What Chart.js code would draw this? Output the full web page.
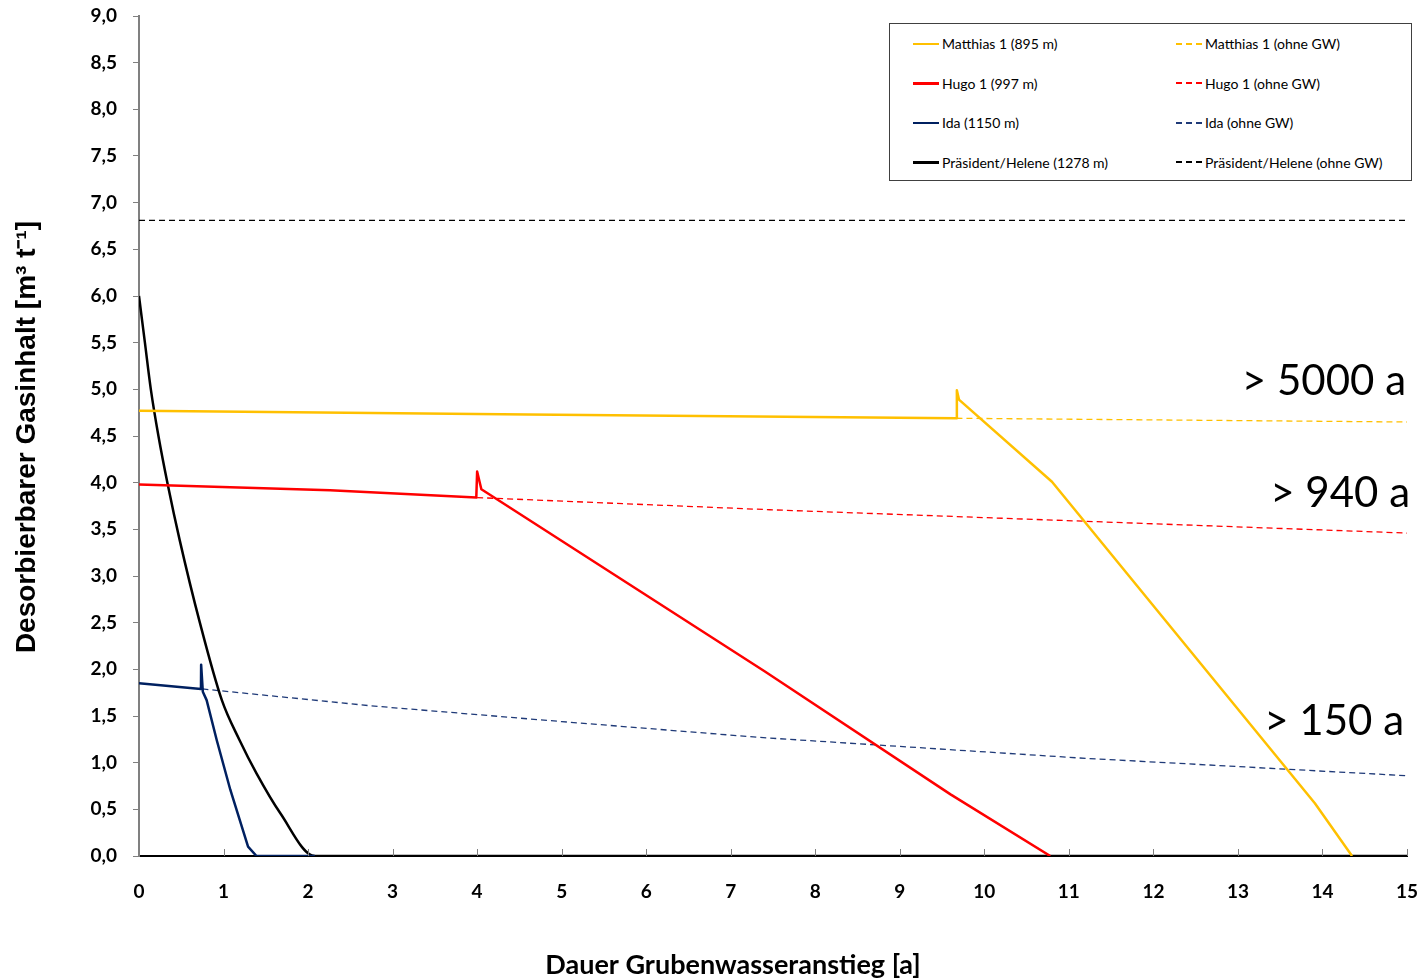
<!DOCTYPE html>
<html>
<head>
<meta charset="utf-8">
<script src="https://cdn.jsdelivr.net/npm/chart.js@4/dist/chart.umd.min.js"></script>
<style>
    body { margin: 0; background: #fff; }
    #wrap { position: relative; width: 1422px; height: 980px; }
    #legend {
        position: absolute; left: 889px; top: 23px; width: 521px; height: 156px;
        border: 1px solid #404040; background: #fff;
        display: grid; grid-template-columns: 262px 259px; grid-template-rows: repeat(4, 39.5px);
        grid-auto-flow: column;
        font-family: Lato, "Open Sans", sans-serif; font-size: 14px; color: #000;
    }
    #legend .item { display: flex; align-items: center; padding-left: 23px; }
    #legend .item:nth-child(n+5) { padding-left: 24px; }
    #legend .sample { width: 26px; margin-right: 3px; }
</style>
</head>
<body>
<div id="wrap">
    <canvas id="chart" width="1422" height="980"></canvas>
    <div id="legend"></div>
</div>
<script>
// Matthias 1
const matthiasX = [0, 4.6, 9.67, 9.675, 9.70, 10.80, 13.91, 14.35];
const matthiasY = [4.77, 4.73, 4.69, 4.99, 4.89, 4.01, 0.565, 0];
const matthiasOhneX = [9.67, 15];
const matthiasOhneY = [4.69, 4.65];

// Hugo 1
const hugoX = [0, 2.26, 3.99, 4.0, 4.05, 7.4, 9.6, 10.78];
const hugoY = [3.98, 3.92, 3.84, 4.12, 3.93, 1.98, 0.66, 0];
const hugoOhneX = [4.0, 7.46, 15];
const hugoOhneY = [3.84, 3.71, 3.46];

// Ida
const idaX = [0, 0.733, 0.735, 0.755, 0.80, 0.92, 1.08, 1.29, 1.39, 2.08];
const idaY = [1.85, 1.79, 2.05, 1.76, 1.67, 1.24, 0.71, 0.10, 0, 0];
const idaOhneX = [0.75, 2.73, 5, 7.35, 11.13, 15];
const idaOhneY = [1.79, 1.61, 1.44, 1.27, 1.05, 0.86];

// Präsident/Helene
const praesidentX = [0, 0.07, 0.14, 0.23, 0.34, 0.48, 0.72, 0.98, 1.19, 1.39, 1.67, 2.08, 15];
const praesidentY = [6.0, 5.5, 5.0, 4.5, 3.98, 3.39, 2.50, 1.67, 1.24, 0.885, 0.46, 0, 0];
const praesidentOhneX = [0, 15];
const praesidentOhneY = [6.81, 6.81];

const seriesLabels = [
    'Matthias 1 (895 m)', 'Hugo 1 (997 m)', 'Ida (1150 m)', 'Präsident/Helene (1278 m)',
    'Matthias 1 (ohne GW)', 'Hugo 1 (ohne GW)', 'Ida (ohne GW)', 'Präsident/Helene (ohne GW)',
];
const notes = ['> 5000 a', '> 940 a', '> 150 a'];

const xTitle = 'Dauer Grubenwasseranstieg [a]';
const yTitle = 'Desorbierbarer Gasinhalt [m³ t⁻¹]';

const toPoints = (xs, ys) => xs.map((x, i) => ({ x, y: ys[i] }));

const solid = (label, xs, ys, color) => ({
    label, data: toPoints(xs, ys), borderColor: color, backgroundColor: color,
    borderWidth: 2.5, borderJoinStyle: 'round', pointRadius: 0, tension: 0, fill: false,
});
const dashed = (label, xs, ys, color) => ({
    label, data: toPoints(xs, ys), borderColor: color, backgroundColor: color,
    borderWidth: 1.3, borderDash: [6, 4], pointRadius: 0, tension: 0, fill: false,
});

const datasets = [
    solid(seriesLabels[0], matthiasX, matthiasY, '#FFC000'),
    solid(seriesLabels[1], hugoX, hugoY, '#FF0000'),
    solid(seriesLabels[2], idaX, idaY, '#002060'),
    { ...solid(seriesLabels[3], praesidentX, praesidentY, '#000000'), cubicInterpolationMode: 'monotone' },
    dashed(seriesLabels[4], matthiasOhneX, matthiasOhneY, '#FFC000'),
    dashed(seriesLabels[5], hugoOhneX, hugoOhneY, '#FF0000'),
    dashed(seriesLabels[6], idaOhneX, idaOhneY, '#1F3A78'),
    dashed(seriesLabels[7], praesidentOhneX, praesidentOhneY, '#000000'),
];

// inward x ticks, axis titles and the "> ... a" notes
const extras = {
    id: 'extras',
    afterDraw(chart) {
        const { ctx, chartArea, scales: { x, y } } = chart;
        ctx.save();

        ctx.strokeStyle = '#808080';
        ctx.lineWidth = 1;
        x.ticks.forEach((t) => {
            if (t.value === 0) return;
            const px = Math.round(x.getPixelForValue(t.value)) + 0.5;
            ctx.beginPath();
            ctx.moveTo(px, chartArea.bottom);
            ctx.lineTo(px, chartArea.bottom - 7);
            ctx.stroke();
        });

        ctx.fillStyle = '#000';
        ctx.font = 'bold 27px Lato, sans-serif';
        ctx.textAlign = 'center';
        ctx.textBaseline = 'alphabetic';
        ctx.fillText(xTitle, 733, 974);

        ctx.save();
        ctx.translate(35, 437);
        ctx.rotate(-Math.PI / 2);
        ctx.font = 'bold 28px "Liberation Sans Narrow", "Arial Narrow", sans-serif';
        ctx.fillText(yTitle, 0, 0);
        ctx.restore();

        ctx.font = '42px Lato, sans-serif';
        ctx.textAlign = 'right';
        const anchors = [[1406, 4.94], [1410, 3.74], [1404, 1.30]];
        notes.forEach((text, i) => {
            ctx.fillText(text, anchors[i][0], y.getPixelForValue(anchors[i][1]));
        });
        ctx.restore();
    },
};

const noPad = (s) => { s.paddingLeft = 0; s.paddingRight = 0; s.paddingTop = 0; s.paddingBottom = 0; };

const chart = new Chart(document.getElementById('chart'), {
    type: 'line',
    data: { datasets },
    plugins: [extras],
    options: {
        responsive: false,
        animation: false,
        devicePixelRatio: 1,
        layout: { padding: { left: 0, top: 16, right: 15, bottom: 0 } },
        plugins: { legend: { display: false }, tooltip: { enabled: false } },
        scales: {
            x: {
                type: 'linear', min: 0, max: 15,
                afterFit: (s) => { s.height = 124; noPad(s); },
                ticks: {
                    stepSize: 1, padding: 24, color: '#000',
                    font: { family: 'Lato', size: 19, weight: 'bold' },
                },
                grid: { drawOnChartArea: false, drawTicks: false },
                border: { color: '#000', width: 2 },
            },
            y: {
                type: 'linear', min: 0, max: 9,
                afterFit: (s) => { s.width = 139; noPad(s); },
                ticks: {
                    stepSize: 0.5, padding: 16, color: '#000',
                    font: { family: 'Lato', size: 19, weight: 'bold' },
                    callback: (v) => v.toFixed(1).replace('.', ','),
                },
                grid: { drawOnChartArea: false, drawTicks: true, tickLength: 6, color: '#808080' },
                border: { color: '#808080', width: 2 },
            },
        },
    },
});

// html legend, two columns: with / without groundwater
const legend = document.getElementById('legend');
chart.data.datasets.forEach((ds) => {
    const item = document.createElement('div');
    item.className = 'item';
    const sample = document.createElement('span');
    sample.className = 'sample';
    if (ds.borderDash) {
        sample.style.height = '2px';
        sample.style.background = `repeating-linear-gradient(90deg, ${ds.borderColor} 0 6px, transparent 6px 10px)`;
    } else {
        sample.style.height = '2.5px';
        sample.style.background = ds.borderColor;
    }
    const text = document.createElement('span');
    text.textContent = ds.label;
    item.append(sample, text);
    legend.appendChild(item);
});
</script>
</body>
</html>
